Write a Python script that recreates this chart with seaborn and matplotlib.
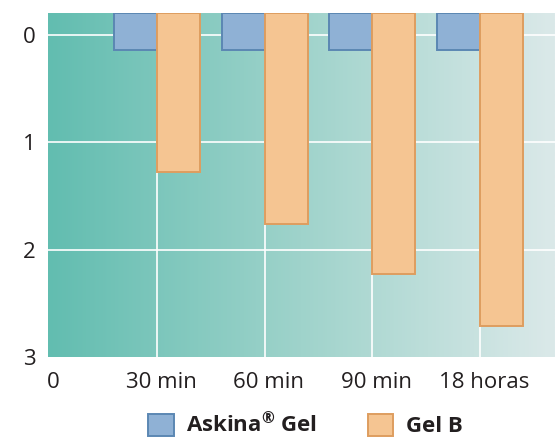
import seaborn as sns
import matplotlib.pyplot as plt
import matplotlib.transforms as mtransforms
import pandas as pd
import numpy as np
from matplotlib.colors import LinearSegmentedColormap
from matplotlib.patches import Patch


# values (bars hang down from the top edge)
times = ['0', '30 min', '60 min', '90 min', '18 horas']
bar_times = ['30 min', '60 min', '90 min', '18 horas']
askina = [0.14, 0.14, 0.14, 0.14]
gel_b = [1.28, 1.76, 2.23, 2.71]
products = ['Askina® Gel', 'Gel B']
legend_labels = [r'Askina$^{\mathregular{®}}$ Gel', 'Gel B']

fill_colors = {'Askina® Gel': '#8fb1d5', 'Gel B': '#f5c592'}
edge_colors = {'Askina® Gel': '#5b87b3', 'Gel B': '#de9d5f'}

data = pd.DataFrame({
    'time': bar_times * 2,
    'value': askina + gel_b,
    'product': [products[0]] * len(bar_times) + [products[1]] * len(bar_times),
})

sns.set_theme(style='white')
plt.rcParams['font.family'] = ['Open Sans', 'DejaVu Sans']

fig = plt.figure(figsize=(5.55, 4.38), dpi=100)
ax = fig.add_axes([48 / 555, 81 / 438, 507 / 555, 344 / 438])

top = -0.2
sns.barplot(data=data, x='time', y='value', hue='product', order=times,
            hue_order=products, palette=fill_colors, saturation=1, width=0.8,
            legend=False, linewidth=1.4, ax=ax, zorder=2)

# bars start at the top of the plot, not at zero
for prod, cont in zip(products, ax.containers):
    for p in cont:
        h = p.get_height()
        p.set_y(top)
        p.set_height(h - top)
        p.set_edgecolor(edge_colors[prod])

x0, x1 = -0.014, 4.70
ax.set_xlim(x0, x1)
ax.set_ylim(3, top)

# teal to pale gradient background
cmap = LinearSegmentedColormap.from_list('bg', ['#62bdb0', '#9fd3cb', '#dbe9e9'])
grad = np.linspace(0, 1, 256).reshape(1, -1)
ax.imshow(grad, extent=(x0, x1, 3, top), aspect='auto', cmap=cmap, zorder=0)

for y in [0, 1, 2]:
    ax.axhline(y, color='white', lw=1.2, zorder=1)
for x in range(1, len(times)):
    ax.axvline(x, color='white', lw=1.2, zorder=1)

ax.set_yticks([0, 1, 2, 3])
ax.set_yticklabels(['0', '1', '2', '3'])
ax.set_xticks(range(len(times)))
ax.set_xticklabels(times)
ax.tick_params(axis='both', length=0, labelsize=16, labelcolor='#231f20')
ax.tick_params(axis='y', pad=9)
ax.tick_params(axis='x', pad=11)
# labels sit a little right of the grid lines in the original
shift = mtransforms.ScaledTranslation(4 / 100, 0, fig.dpi_scale_trans)
for lab in ax.get_xticklabels():
    lab.set_transform(lab.get_transform() + shift)
ax.set_xlabel('')
ax.set_ylabel('')
for s in ax.spines.values():
    s.set_visible(False)

handles = [Patch(facecolor=fill_colors[p], edgecolor=edge_colors[p], linewidth=1.4) for p in products]
leg = fig.legend(handles, legend_labels, loc='center', bbox_to_anchor=(0.55, 0.03), ncol=2,
                 frameon=False, handlelength=1.15, handleheight=1.15, handletextpad=0.55,
                 columnspacing=2.3, prop={'size': 16, 'weight': 'bold'})
for t in leg.get_texts():
    t.set_color('#231f20')

fig.savefig('out.png', dpi=100)
